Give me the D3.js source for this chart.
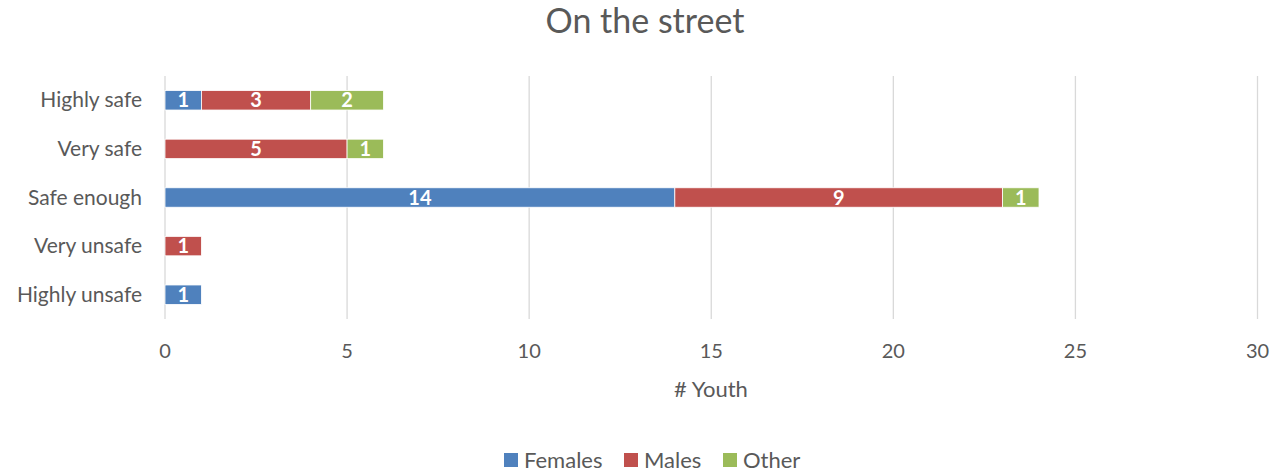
<!DOCTYPE html>
<html lang="en">
<head>
  <meta charset="UTF-8">
  <title>On the street</title>
  <script src="https://d3js.org/d3.v7.min.js"></script>
  <style>
    body { margin: 0; background: #fff; }
    svg text { font-family: Lato, "Open Sans", sans-serif; fill: #595959; }
    .bar-label { fill: #fff; font-weight: bold; }
  </style>
</head>
<body>
<svg width="1284" height="472"></svg>
<script>
  const categories = ["Highly safe", "Very safe", "Safe enough", "Very unsafe", "Highly unsafe"];
  const seriesNames = ["Females", "Males", "Other"];
  const colors = ["#4f81bd", "#c0504d", "#9bbb59"];
  const females = [1, 0, 14, 0, 1];
  const males = [3, 5, 9, 1, 0];
  const other = [2, 1, 1, 0, 0];
  const xTicks = [0, 5, 10, 15, 20, 25, 30];

  const svg = d3.select("svg");
  const margin = {left: 165, right: 26.5, top: 76, bottom: 153};
  const W = 1284, H = 472;

  const table = categories.map((c, i) => ({cat: c, Females: females[i], Males: males[i], Other: other[i]}));
  const stacked = d3.stack().keys(seriesNames)(table);

  const x = d3.scaleLinear().domain([0, 30]).range([margin.left, W - margin.right]);
  const y = d3.scaleBand().domain(categories).range([margin.top, H - margin.bottom]).paddingInner(0.6).paddingOuter(0.3);

  // title
  svg.append("text").attr("x", 645).attr("y", 33).attr("text-anchor", "middle")
    .style("font-size", "34px").text("On the street");

  // gridlines
  svg.append("g").selectAll("line").data(xTicks).join("line")
    .attr("x1", d => x(d)).attr("x2", d => x(d))
    .attr("y1", margin.top).attr("y2", H - margin.bottom)
    .attr("stroke", "#d9d9d9").attr("stroke-width", 1.3);

  // x tick labels
  svg.append("g").selectAll("text").data(xTicks).join("text")
    .attr("x", d => x(d)).attr("y", 358).attr("text-anchor", "middle")
    .style("font-size", "20px").text(d => d);

  svg.append("text").attr("x", 711).attr("y", 397).attr("text-anchor", "middle")
    .style("font-size", "22px").text("# Youth");

  // category labels
  svg.append("g").selectAll("text").data(categories).join("text")
    .attr("x", 142).attr("y", d => y(d) + y.bandwidth() / 2 + 7).attr("text-anchor", "end")
    .style("font-size", "21px").text(d => d);

  // bars
  const layers = svg.append("g").selectAll("g").data(stacked).join("g")
    .attr("fill", (d, i) => colors[i]);
  layers.selectAll("rect").data(d => d.filter(s => s[1] - s[0] > 0)).join("rect")
    .attr("x", d => x(d[0])).attr("width", d => x(d[1]) - x(d[0]))
    .attr("y", d => y(d.data.cat)).attr("height", y.bandwidth())
    .attr("stroke", "#fff").attr("stroke-width", 0.8);

  layers.selectAll("text").data(d => d.filter(s => s[1] - s[0] > 0)).join("text")
    .attr("class", "bar-label")
    .attr("x", d => (x(d[0]) + x(d[1])) / 2)
    .attr("y", d => y(d.data.cat) + y.bandwidth() / 2 + 7)
    .attr("text-anchor", "middle").style("font-size", "20px")
    .text(d => d[1] - d[0]);

  // legend
  const legendX = [504, 624, 723];
  const leg = svg.append("g").selectAll("g").data(seriesNames).join("g")
    .attr("transform", (d, i) => `translate(${legendX[i]},453)`);
  leg.append("rect").attr("width", 14).attr("height", 14).attr("fill", (d, i) => colors[i]);
  leg.append("text").attr("x", 20).attr("y", 14.5).style("font-size", "22px").text(d => d);
</script>
</body>
</html>
